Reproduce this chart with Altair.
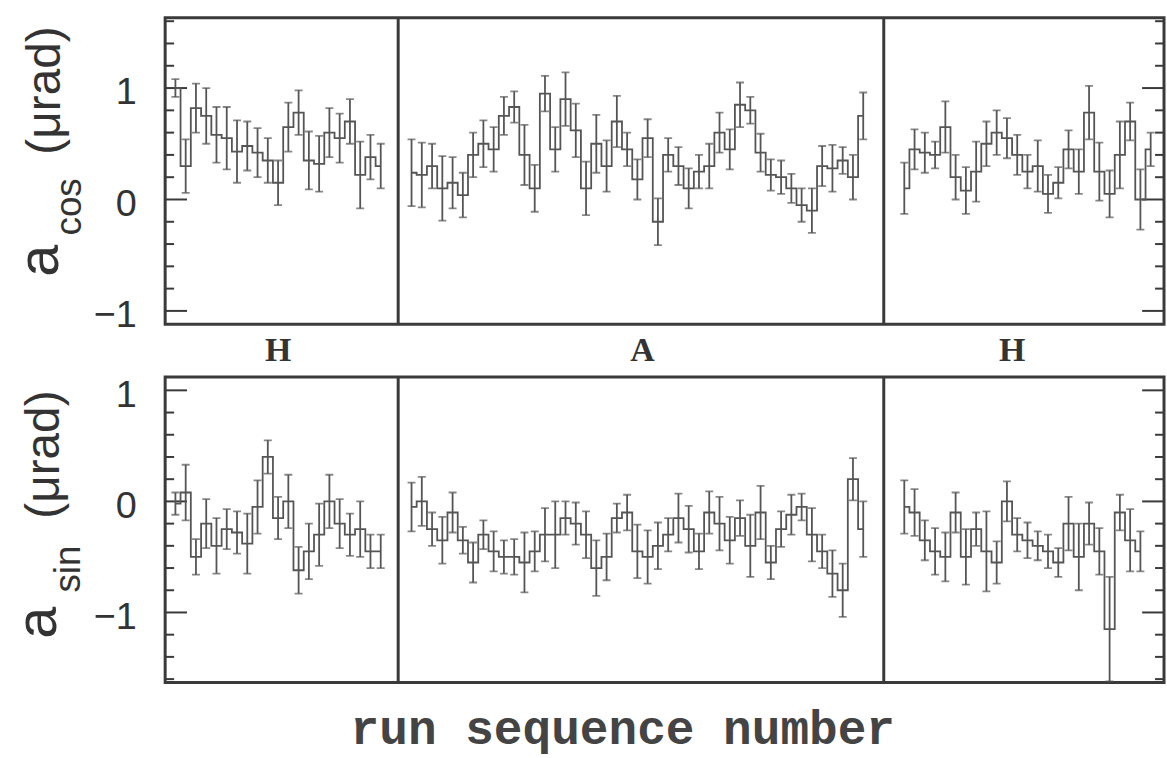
import altair as alt
import pandas as pd

# ---------------- data ----------------
seg_names = ["H1", "A", "H2"]

# run positions per segment
runs_seg1 = list(range(1, 22))          # 21 runs
runs_seg2 = list(range(24, 69))         # 45 runs
runs_seg3_top = list(range(72, 97))     # 25 runs
runs_seg3_bot = list(range(72, 96))     # 24 runs

# a_cos (top panel)
cos_seg1 = [1.0, 0.3, 0.82, 0.75, 0.58, 0.55, 0.43, 0.48, 0.42, 0.35, 0.15,
            0.65, 0.78, 0.35, 0.32, 0.6, 0.55, 0.7, 0.22, 0.38, 0.3]
cos_err1 = [0.08, 0.24, 0.22, 0.25, 0.25, 0.28, 0.28, 0.22, 0.22, 0.2, 0.2,
            0.22, 0.2, 0.26, 0.25, 0.22, 0.22, 0.2, 0.3, 0.2, 0.2]
cos_seg2 = [0.24, 0.22, 0.3, 0.1, 0.15, 0.04, 0.4, 0.5, 0.45, 0.75, 0.83, 0.4,
            0.1, 0.95, 0.45, 0.9, 0.62, 0.1, 0.5, 0.3, 0.7, 0.45, 0.18, 0.55,
            -0.2, 0.4, 0.3, 0.1, 0.25, 0.3, 0.6, 0.45, 0.85, 0.8, 0.42, 0.22,
            0.2, 0.1, -0.05, -0.1, 0.3, 0.28, 0.35, 0.2, 0.75]
cos_err2 = [0.3, 0.29, 0.2, 0.29, 0.23, 0.2, 0.2, 0.21, 0.2, 0.17, 0.14, 0.27,
            0.21, 0.16, 0.2, 0.24, 0.24, 0.24, 0.26, 0.23, 0.23, 0.15, 0.18,
            0.17, 0.21, 0.15, 0.17, 0.18, 0.15, 0.2, 0.18, 0.18, 0.2, 0.12,
            0.17, 0.14, 0.15, 0.13, 0.15, 0.2, 0.18, 0.21, 0.12, 0.2, 0.21]
cos_seg3 = [0.1, 0.45, 0.42, 0.4, 0.65, 0.2, 0.08, 0.25, 0.5, 0.6, 0.55, 0.4,
            0.25, 0.3, 0.05, 0.15, 0.45, 0.25, 0.78, 0.25, 0.05, 0.4, 0.7,
            0.0, 0.45]
cos_err3 = [0.23, 0.18, 0.18, 0.12, 0.23, 0.2, 0.21, 0.27, 0.2, 0.2, 0.18,
            0.18, 0.15, 0.23, 0.17, 0.14, 0.17, 0.2, 0.24, 0.26, 0.21, 0.3,
            0.17, 0.27, 0.15]

# a_sin (bottom panel)
sin_seg1 = [-0.02, 0.08, -0.5, -0.2, -0.4, -0.25, -0.28, -0.38, -0.05, 0.4,
            -0.15, 0.0, -0.62, -0.45, -0.3, 0.0, -0.2, -0.3, -0.25, -0.45, -0.45]
sin_err1 = [0.1, 0.25, 0.16, 0.22, 0.25, 0.18, 0.19, 0.27, 0.24, 0.15, 0.19,
            0.24, 0.21, 0.25, 0.28, 0.24, 0.22, 0.19, 0.25, 0.15, 0.15]
sin_seg2 = [-0.05, 0.0, -0.25, -0.35, -0.1, -0.35, -0.55, -0.3, -0.45, -0.5,
            -0.5, -0.55, -0.45, -0.3, -0.3, -0.15, -0.2, -0.3, -0.6, -0.5,
            -0.15, -0.1, -0.45, -0.5, -0.4, -0.3, -0.15, -0.25, -0.45, -0.1,
            -0.2, -0.35, -0.15, -0.4, -0.1, -0.55, -0.25, -0.12, -0.05, -0.3,
            -0.45, -0.65, -0.8, 0.2, -0.25]
sin_err2 = [0.22, 0.22, 0.15, 0.21, 0.18, 0.12, 0.18, 0.13, 0.18, 0.15, 0.16,
            0.27, 0.18, 0.24, 0.3, 0.15, 0.19, 0.21, 0.25, 0.21, 0.13, 0.16,
            0.24, 0.24, 0.21, 0.15, 0.22, 0.21, 0.16, 0.19, 0.24, 0.21, 0.16,
            0.28, 0.24, 0.15, 0.16, 0.18, 0.12, 0.24, 0.15, 0.21, 0.24, 0.19,
            0.25]
sin_seg3 = [-0.05, -0.1, -0.35, -0.45, -0.5, -0.1, -0.5, -0.25, -0.45, -0.55,
            0.0, -0.3, -0.35, -0.4, -0.45, -0.55, -0.2, -0.5, -0.2, -0.45,
            -1.15, -0.1, -0.35, -0.45]
sin_err3 = [0.24, 0.21, 0.18, 0.21, 0.22, 0.18, 0.25, 0.15, 0.36, 0.19, 0.18,
            0.15, 0.16, 0.13, 0.15, 0.13, 0.24, 0.3, 0.19, 0.21, 0.47, 0.16,
            0.28, 0.18]

separators = [22.7, 70.0]
label_x = [11.0, 46.5, 82.5]
label_txt = ["H", "A", "H"]

minor_top = [-0.8, -0.6, -0.4, -0.2, 0.2, 0.4, 0.6, 0.8, 1.2, 1.4, 1.6]
minor_bot = [-1.6, -1.4, -1.2, -0.8, -0.6, -0.4, -0.2, 0.2, 0.4, 0.6, 0.8]
major_ticks = [-1, 0, 1]

# ---------------- layout / style ----------------
W = 1004
H_TOP = 308
H_BOT = 307
XMAX = 97.3
INK = "#555555"
FRAME = "#3a3a3a"
TXT = "#333333"


def make_df(runs_list, vals_list, errs_list):
    rows = []
    for seg, rr, vv, ee in zip(seg_names, runs_list, vals_list, errs_list):
        for r, v, e in zip(rr, vv, ee):
            rows.append({"run": r, "value": v, "err": e, "segment": seg})
    return pd.DataFrame(rows)


df_top = make_df([runs_seg1, runs_seg2, runs_seg3_top],
                 [cos_seg1, cos_seg2, cos_seg3],
                 [cos_err1, cos_err2, cos_err3])
df_bot = make_df([runs_seg1, runs_seg2, runs_seg3_bot],
                 [sin_seg1, sin_seg2, sin_seg3],
                 [sin_err1, sin_err2, sin_err3])

one = pd.DataFrame({"k": [0]})
xsc = alt.Scale(domain=[0, XMAX], nice=False, zero=False)


def panel(df, ydomain, h, minor, sub, title_pos):
    ysc = alt.Scale(domain=ydomain, nice=False, zero=False)
    yax = alt.Axis(values=major_ticks, title=None, ticks=False, domain=False,
                   grid=False, labelFontSize=38, labelFont="Liberation Sans",
                   labelColor=TXT, labelPadding=29, labelOffset=5, format="d")
    X = alt.X("run:Q", scale=xsc, axis=None)
    base = alt.Chart(df)

    step = base.mark_line(interpolate="step", color=INK, strokeWidth=1.8,
                          clip=True).encode(
        x=X, y=alt.Y("value:Q", scale=ysc, axis=yax), detail="segment:N")
    bars = base.transform_calculate(
        lo="datum.value - datum.err", hi="datum.value + datum.err"
    ).mark_rule(color=INK, strokeWidth=1.8, clip=True).encode(
        x=X, y=alt.Y("lo:Q", scale=ysc, axis=yax), y2="hi:Q")
    caps = base.transform_calculate(
        lo="datum.value - datum.err", hi="datum.value + datum.err"
    ).transform_fold(["lo", "hi"], as_=["end", "cap"]).mark_tick(
        orient="horizontal", size=8, thickness=1.8, color=INK, clip=True
    ).encode(x=X, y=alt.Y("cap:Q", scale=ysc, axis=yax))

    seps = alt.Chart(pd.DataFrame({"sx": separators})).mark_rule(
        color=FRAME, strokeWidth=3).encode(x=alt.X("sx:Q", scale=xsc, axis=None))

    dmin = pd.DataFrame({"t": minor})
    dmaj = pd.DataFrame({"t": major_ticks})
    tk = []
    for d, ln in ((dmin, 9), (dmaj, 22)):
        tk.append(alt.Chart(d).mark_rule(color=FRAME, strokeWidth=2).encode(
            y=alt.Y("t:Q", scale=ysc, axis=yax), x=alt.value(0), x2=alt.value(ln)))
        tk.append(alt.Chart(d).mark_rule(color=FRAME, strokeWidth=2).encode(
            y=alt.Y("t:Q", scale=ysc, axis=yax), x=alt.value(W - ln), x2=alt.value(W)))

    (ax, ay), (sx, sy), (px, py) = title_pos
    t_a = alt.Chart(one).mark_text(angle=270, font="Liberation Sans", fontSize=58,
                                   color=TXT, align="center", baseline="middle").encode(
        x=alt.value(ax), y=alt.value(ay), text=alt.value("a"))
    t_s = alt.Chart(one).mark_text(angle=270, font="Liberation Sans", fontSize=37,
                                   color=TXT, align="center", baseline="middle").encode(
        x=alt.value(sx), y=alt.value(sy), text=alt.value(sub))
    t_u = alt.Chart(one).mark_text(angle=270, font="Liberation Sans", fontSize=48,
                                   color=TXT, align="center", baseline="middle").encode(
        x=alt.value(px), y=alt.value(py), text=alt.value("(μrad)"))

    layers = tk + [seps, step, bars, caps, t_a, t_s, t_u]
    return layers


top_layers = panel(df_top, [-1.12, 1.63], H_TOP, minor_top, "cos",
                   ((-125, 244), (-96, 190), (-120, 73)))
bot_layers = panel(df_bot, [-1.63, 1.12], H_BOT, minor_bot, "sin",
                   ((-127, 247), (-97, 193), (-121, 78)))

seg_labels = alt.Chart(pd.DataFrame({"lx": label_x, "lt": label_txt})).mark_text(
    font="Liberation Serif", fontWeight="bold", fontSize=34, color=TXT,
    baseline="middle", align="center").encode(
    x=alt.X("lx:Q", scale=xsc, axis=None), y=alt.value(H_TOP + 27), text="lt:N")
xtitle = alt.Chart(one).mark_text(
    font="Liberation Mono", fontWeight="bold", fontSize=48, color="#444444",
    baseline="middle", align="center").encode(
    x=alt.value(460), y=alt.value(355), text=alt.value("run sequence number"))

top = alt.layer(*top_layers, seg_labels).properties(width=W, height=H_TOP)
bot = alt.layer(*bot_layers, xtitle).properties(width=W, height=H_BOT)

chart = alt.vconcat(top, bot, spacing=53, bounds="flush").properties(
    padding={"left": 8, "top": 13, "right": 0, "bottom": 0}
).configure_view(stroke=FRAME, strokeWidth=3)

chart.save("out.html", embed_options={"renderer": "svg", "actions": False})
